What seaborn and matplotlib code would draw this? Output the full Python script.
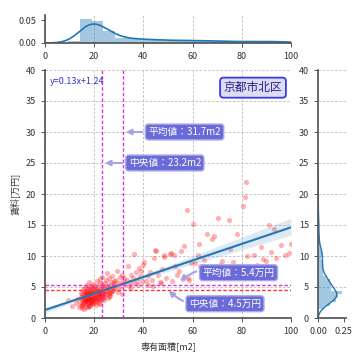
import numpy as np
import pandas as pd
import matplotlib
matplotlib.use("Agg")
import matplotlib.pyplot as plt
import seaborn as sns

# ---- data ----
xa = [9.5, 10.9, 12.5, 13.2, 13.8]
ya = [2.9, 1.9, 2.4, 3.1, 1.8]
xb = [14.3, 14.5, 14.7, 14.8, 14.9, 15.0, 15.1, 15.2, 15.3, 15.4, 15.5, 15.6, 15.8, 15.9, 16.0,
      16.1, 16.2, 16.2, 16.3, 16.4, 16.5, 16.6, 16.7, 16.8, 16.9, 16.9, 17.0, 17.0, 17.1, 17.2,
      17.3, 17.3, 17.4, 17.5, 17.5, 17.6, 17.6, 17.7, 17.8, 17.9, 18.0, 18.0, 18.1, 18.2, 18.2,
      18.3, 18.4, 18.5, 18.5, 18.6, 18.7, 18.7, 18.8, 18.9]
yb = [2.6, 3.4, 1.9, 4.1, 2.9, 3.2, 1.6, 3.8, 2.4, 4.6, 3.0, 2.2, 3.6, 1.4, 4.3,
      2.8, 3.3, 5.0, 2.5, 3.9, 3.1, 1.8, 4.4, 2.7, 3.5, 5.4, 2.3, 3.7, 4.0, 2.9,
      3.3, 1.7, 4.8, 2.6, 3.9, 3.0, 4.5, 2.2, 3.6, 5.8, 3.2, 4.1, 2.7, 3.8, 1.9,
      4.6, 3.4, 2.5, 5.2, 3.1, 4.0, 2.8, 3.7, 4.3]
xc = [19.0, 19.1, 19.2, 19.3, 19.4, 19.5, 19.6, 19.7, 19.8, 19.9, 20.0, 20.1, 20.2, 20.3, 20.5,
      20.6, 20.7, 20.8, 20.9, 21.0, 21.1, 21.2, 21.3, 21.4, 21.5, 21.6, 21.7, 21.8, 21.9, 22.0,
      22.1, 22.2, 22.3, 22.4, 22.5, 22.6, 22.7, 22.8, 22.9, 23.0, 23.1, 23.2, 23.3, 23.4, 23.5, 23.5]
yc = [3.5, 4.2, 2.6, 4.8, 3.1, 5.5, 3.8, 2.3, 4.4, 3.3, 4.9, 2.8, 4.0, 3.6, 5.2,
      3.0, 4.6, 2.1, 3.9, 4.3, 6.0, 3.4, 2.7, 4.3, 3.8, 5.0, 3.2, 4.1, 2.5, 4.4,
      3.7, 5.6, 3.0, 4.2, 6.3, 3.5, 4.8, 2.9, 4.0, 5.3, 3.6, 4.4, 6.6, 3.9, 4.9, 3.3]
xm = [15.2, 15.7, 16.3, 16.8, 17.2, 17.7, 18.1, 18.6, 19.2, 19.7, 20.1, 20.6, 21.0, 21.5,
      21.9, 22.4, 22.8, 23.1, 24.2, 26.4]
ym = [2.1, 3.6, 2.9, 4.2, 3.3, 2.0, 3.9, 3.0, 2.4, 4.1, 3.2, 2.6, 3.7, 4.4,
      3.0, 2.2, 3.8, 4.3, 3.9, 4.2]
xd = [23.7, 23.9, 24.1, 24.3, 24.5, 24.7, 24.9, 25.1, 25.3, 25.5, 25.7, 25.9, 26.1, 26.3,
      26.5, 26.7, 26.9, 27.1, 27.3, 27.5, 27.7, 27.9, 28.1, 24.0, 25.0, 26.0, 27.0, 28.2]
yd = [4.2, 5.0, 3.4, 5.6, 4.4, 3.8, 6.2, 4.4, 5.1, 3.2, 4.8, 6.5, 4.0, 5.4,
      3.6, 4.9, 5.8, 4.3, 6.8, 5.0, 4.5, 6.0, 5.3, 2.9, 7.2, 3.5, 4.1, 5.6]
xe = [28.5, 28.9, 29.3, 29.8, 30.2, 30.6, 31.0, 31.4, 31.8, 32.2, 32.6, 29.6, 31.2]
ye = [5.0, 6.1, 7.6, 4.6, 5.7, 6.6, 5.2, 7.0, 5.9, 6.4, 5.5, 4.2, 3.8]
xf = [33.5, 33.9, 34.5, 34.8, 35.0, 35.6, 36.2, 36.3, 37.0, 37.5, 38.1, 38.6, 39.2, 39.6, 34.0, 37.8]
yf = [6.2, 8.4, 5.8, 4.9, 7.0, 6.5, 10.3, 5.6, 7.4, 6.0, 8.0, 6.8, 7.6, 5.9, 5.2, 5.4]
xg = [40.0, 40.3, 41.0, 41.8, 42.0, 42.5, 43.3, 44.4, 44.8, 45.1, 46.0, 46.8, 47.5, 48.2,
      48.5, 49.2, 43.8, 47.0]
yg = [8.6, 9.0, 6.0, 6.8, 5.4, 7.4, 6.2, 9.6, 11.0, 10.8, 6.9, 5.8, 7.9, 9.8,
      10.2, 6.5, 5.2, 5.6]
xh = [50.9, 51.2, 52.6, 52.9, 53.5, 54.6, 55.3, 56.6, 57.9, 58.5, 59.3, 51.8, 56.0, 58.0]
yh = [10.4, 10.5, 10.2, 8.4, 6.9, 7.6, 10.8, 11.6, 17.5, 6.1, 8.8, 6.0, 6.3, 6.5]
xi = [60.0, 62.1, 62.4, 64.8, 65.8, 67.8, 68.5, 61.0, 66.0, 62.9, 67.6, 64.0]
yi = [15.1, 10.1, 12.0, 9.3, 13.5, 12.7, 13.2, 8.8, 8.2, 8.4, 7.6, 7.6]
xj = [70.5, 74.6, 75.3, 78.0, 72.0, 76.5, 71.0, 75.0]
yj = [16.2, 15.8, 11.2, 13.5, 9.2, 9.0, 8.6, 8.4]
xk = [80.6, 81.3, 81.6, 82.1, 84.8, 88.0, 88.5, 86.0, 90.0]
yk = [18.1, 19.5, 22.0, 10.0, 10.2, 11.4, 9.5, 8.6, 9.2]
xl = [90.9, 93.0, 96.0, 99.1, 99.8, 92.0, 94.0, 97.5]
yl = [15.0, 14.4, 11.8, 10.5, 12.0, 10.6, 9.6, 10.2]

area_mean, area_median = 31.7, 23.2
rent_mean, rent_median = 5.4, 4.5
fit_text = "y=0.13x+1.24"
region = "京都市北区"
xlabel = "専有面積[m2]"
ylabel = "賃料[万円]"

x = np.concatenate([xa, xb, xc, xm, xd, xe, xf, xg, xh, xi, xj, xk, xl])
y = np.concatenate([ya, yb, yc, ym, yd, ye, yf, yg, yh, yi, yj, yk, yl])
df = pd.DataFrame({xlabel: x, ylabel: y})

# ---- style ----
sns.set_theme(style="ticks")
plt.rcParams["font.family"] = ["Noto Sans CJK JP", "DejaVu Sans"]
plt.rcParams["font.size"] = 6.5
plt.rcParams["axes.edgecolor"] = "#555555"
plt.rcParams["xtick.color"] = "#555555"
plt.rcParams["ytick.color"] = "#555555"
plt.rcParams["xtick.labelcolor"] = "#333333"
plt.rcParams["ytick.labelcolor"] = "#333333"

fig = plt.figure(figsize=(3.6, 3.6), dpi=100)
W = 360.0
ax = fig.add_axes([45 / W, 42 / W, 246 / W, 248 / W])
ax_top = fig.add_axes([45 / W, 317 / W, 246 / W, 28 / W], sharex=ax)
ax_r = fig.add_axes([318 / W, 42 / W, 28 / W, 248 / W], sharey=ax)

grid_kw = dict(color="#bbbbbb", linestyle=(0, (3, 2)), linewidth=0.6)
c0 = "#1f77b4"

# main scatter + regression
ax.set_xlim(0, 100)
ax.set_ylim(0, 40)
sns.regplot(data=df, x=xlabel, y=ylabel, ax=ax, seed=0, truncate=False,
            scatter_kws=dict(color="red", alpha=0.3, s=14, linewidths=0),
            line_kws=dict(color="#2277b5", linewidth=1.5))
ax.set_xlim(0, 100)
ax.set_ylim(0, 40)
ax.set_xticks([0, 20, 40, 60, 80, 100])
ax.set_yticks(range(0, 41, 5))
ax.grid(True, **grid_kw)
ax.set_axisbelow(True)
ax.set_xlabel(xlabel, fontsize=6.5, color="#333333")
ax.set_ylabel(ylabel, fontsize=6.5, color="#333333")
ax.tick_params(labelsize=6.5, length=3, width=0.7)
sns.despine(ax=ax)

vcol = "#dd33dd"
ax.axvline(area_median, color=vcol, linestyle=(0, (2.5, 1.5)), linewidth=1)
ax.axvline(area_mean, color=vcol, linestyle=(0, (2.5, 1.5)), linewidth=1)
ax.axhline(rent_mean, color=vcol, linestyle=(0, (2.5, 1.5)), linewidth=1)
ax.axhline(rent_median, color="#ff3333", linestyle=(0, (2.5, 1.5)), linewidth=1)

box = dict(boxstyle="round,pad=0.3", fc="#6a6ad8", ec="#a8a8ee", lw=1)
arr = dict(arrowstyle="-|>", color="#a4a4e4", lw=1.5, mutation_scale=8)
ax.annotate(f"平均値：{area_mean}m2", xy=(area_mean, 30), xytext=(42, 30),
            va="center", ha="left", color="white", fontsize=7, bbox=box, arrowprops=arr)
ax.annotate(f"中央値：{area_median}m2", xy=(area_median, 25), xytext=(34, 25),
            va="center", ha="left", color="white", fontsize=7, bbox=box, arrowprops=arr)
ax.annotate(f"平均値：{rent_mean}万円", xy=(54, rent_mean + 0.3), xytext=(64, 7.3),
            va="center", ha="left", color="white", fontsize=7, bbox=box,
            arrowprops=dict(arr, connectionstyle="arc3,rad=0.3"))
ax.annotate(f"中央値：{rent_median}万円", xy=(49.5, rent_median + 0.2), xytext=(58.5, 2.3),
            va="center", ha="left", color="white", fontsize=7, bbox=box,
            arrowprops=dict(arr, connectionstyle="arc3,rad=-0.3"))
ax.text(2, 38.2, fit_text, color="#3333cc", fontsize=6.5, va="center", ha="left")
ax.text(0.965, 0.955, region, transform=ax.transAxes, ha="right", va="top",
        color="#222288", fontsize=8.5,
        bbox=dict(boxstyle="round,pad=0.3", fc="#dcdcf2", ec="#3a3ae6", lw=1.3))

# top marginal
sns.histplot(x=x, ax=ax_top, stat="density", binwidth=4.7, kde=True,
             kde_kws=dict(cut=3, bw_adjust=0.6),
             color=c0, alpha=0.4, linewidth=0, line_kws=dict(linewidth=1.2))
ax_top.set_ylim(0, 0.061)
ax_top.set_yticks([0, 0.05])
ax_top.set_yticklabels(["0.00", "0.05"])
ax_top.set_ylabel("")
ax_top.grid(True, axis="x", **grid_kw)
ax_top.set_axisbelow(True)
ax_top.tick_params(labelsize=6.5, length=3, width=0.7, labelbottom=True)
sns.despine(ax=ax_top)

# right marginal
sns.histplot(y=y, ax=ax_r, stat="density", binwidth=0.6, kde=True,
             kde_kws=dict(cut=3, bw_adjust=0.7),
             color=c0, alpha=0.4, linewidth=0, line_kws=dict(linewidth=1.0))
ax_r.set_xlim(0, 0.27)
ax_r.set_xticks([0, 0.25])
ax_r.set_xticklabels(["0.00", "0.25"])
ax_r.set_xlabel("")
ax_r.grid(True, axis="y", **grid_kw)
ax_r.set_axisbelow(True)
ax_r.tick_params(labelsize=6.5, length=3, width=0.7, labelleft=True)
sns.despine(ax=ax_r)

fig.savefig("out.png", dpi=100)
